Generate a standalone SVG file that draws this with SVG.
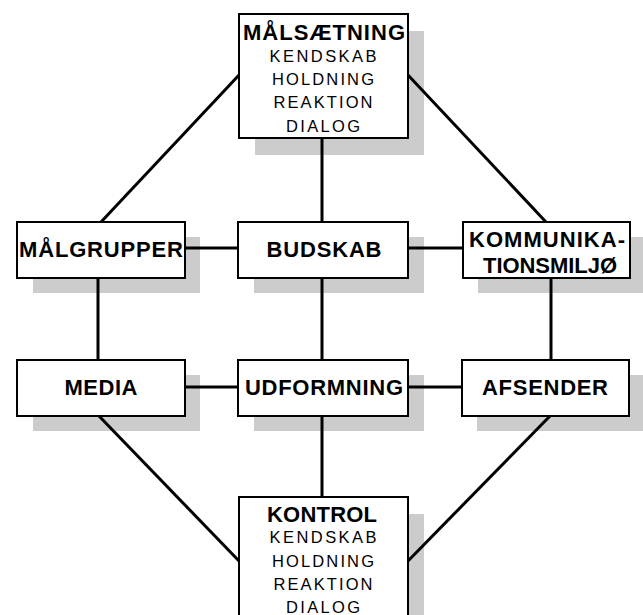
<svg xmlns="http://www.w3.org/2000/svg" width="643" height="615" viewBox="0 0 643 615">
<style>
.sh{fill:#cccccc}
.bx{fill:#ffffff;stroke:#000000;stroke-width:2}
.ln{stroke:#000000;stroke-width:3;fill:none}
.t{font-family:"Liberation Sans",Arial,sans-serif;font-weight:bold;font-size:22px;fill:#000;text-anchor:middle}
.s{font-family:"Liberation Sans",Arial,sans-serif;font-size:16.5px;fill:#000;text-anchor:middle}
</style>
<rect width="643" height="615" fill="#ffffff"/>
<g id="shadows">
<rect class="sh" x="255" y="31" width="169" height="124"/>
<rect class="sh" x="33" y="237" width="167" height="56"/>
<rect class="sh" x="254" y="237" width="170" height="56"/>
<rect class="sh" x="478" y="237" width="165" height="56"/>
<rect class="sh" x="33" y="375" width="167" height="56"/>
<rect class="sh" x="254" y="375" width="170" height="56"/>
<rect class="sh" x="477" y="375" width="166" height="56"/>
<rect class="sh" x="255" y="514" width="169" height="110"/>
</g>
<g id="connectors">
<line class="ln" x1="101" y1="222" x2="240" y2="74"/>
<line class="ln" x1="407" y1="74" x2="546" y2="222"/>
<line class="ln" x1="322" y1="138" x2="322" y2="222"/>
<line class="ln" x1="185" y1="248" x2="238" y2="248"/>
<line class="ln" x1="408" y1="248" x2="463" y2="248"/>
<line class="ln" x1="98" y1="278" x2="98" y2="360"/>
<line class="ln" x1="322" y1="278" x2="322" y2="360"/>
<line class="ln" x1="551" y1="278" x2="551" y2="360"/>
<line class="ln" x1="185" y1="387" x2="238" y2="387"/>
<line class="ln" x1="408" y1="387" x2="462" y2="387"/>
<line class="ln" x1="322" y1="416" x2="322" y2="497"/>
<line class="ln" x1="99" y1="416" x2="240" y2="562"/>
<line class="ln" x1="550" y1="416" x2="407" y2="562"/>
</g>
<g id="maalsaetning">
<rect class="bx" x="239" y="14" width="169" height="124"/>
<text class="t" x="324" y="40" textLength="162" lengthAdjust="spacing">MÅLSÆTNING</text>
<text class="s" x="323" y="62" textLength="107" lengthAdjust="spacing">KENDSKAB</text>
<text class="s" x="323" y="85" textLength="102" lengthAdjust="spacing">HOLDNING</text>
<text class="s" x="323" y="108" textLength="99" lengthAdjust="spacing">REAKTION</text>
<text class="s" x="323" y="132" textLength="74" lengthAdjust="spacing">DIALOG</text>
</g>
<g id="maalgrupper">
<rect class="bx" x="17" y="222" width="168" height="56"/>
<text class="t" x="101" y="257" textLength="164" lengthAdjust="spacing">MÅLGRUPPER</text>
</g>
<g id="budskab">
<rect class="bx" x="238" y="222" width="170" height="56"/>
<text class="t" x="324" y="257" textLength="115" lengthAdjust="spacing">BUDSKAB</text>
</g>
<g id="kommunikationsmiljoe">
<rect class="bx" x="463" y="222" width="167" height="56"/>
<text class="t" x="547" y="247" textLength="156" lengthAdjust="spacing">KOMMUNIKA-</text>
<text class="t" x="550" y="273" textLength="134" lengthAdjust="spacing">TIONSMILJØ</text>
</g>
<g id="media">
<rect class="bx" x="17" y="360" width="168" height="56"/>
<text class="t" x="101" y="395" textLength="73" lengthAdjust="spacing">MEDIA</text>
</g>
<g id="udformning">
<rect class="bx" x="238" y="360" width="170" height="56"/>
<text class="t" x="324" y="395" textLength="158" lengthAdjust="spacing">UDFORMNING</text>
</g>
<g id="afsender">
<rect class="bx" x="462" y="360" width="167" height="56"/>
<text class="t" x="545" y="395" textLength="126" lengthAdjust="spacing">AFSENDER</text>
</g>
<g id="kontrol">
<rect class="bx" x="239" y="497" width="169" height="125"/>
<text class="t" x="322" y="522" textLength="110" lengthAdjust="spacing">KONTROL</text>
<text class="s" x="323" y="543" textLength="107" lengthAdjust="spacing">KENDSKAB</text>
<text class="s" x="323" y="567" textLength="102" lengthAdjust="spacing">HOLDNING</text>
<text class="s" x="323" y="590" textLength="99" lengthAdjust="spacing">REAKTION</text>
<text class="s" x="323" y="613" textLength="74" lengthAdjust="spacing">DIALOG</text>
</g>
</svg>
